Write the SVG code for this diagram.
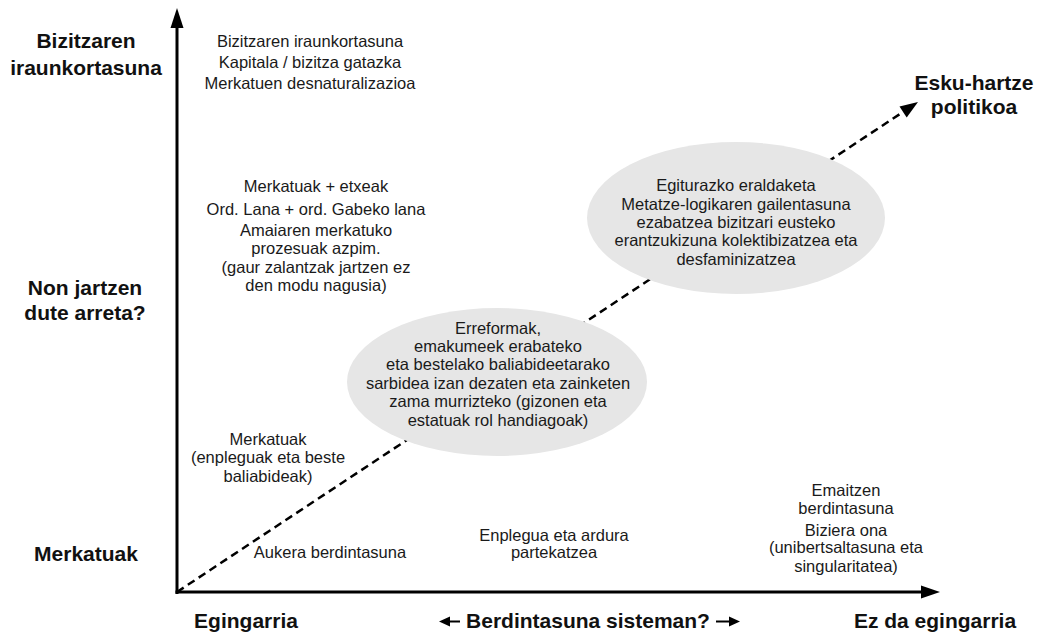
<svg xmlns="http://www.w3.org/2000/svg" width="1041" height="634" viewBox="0 0 1041 634">
<style>
.t{font-family:"Liberation Sans",Arial,sans-serif;font-size:16.5px;fill:#1a1a1a;text-anchor:middle}
.b{font-family:"Liberation Sans",Arial,sans-serif;font-size:21px;font-weight:bold;fill:#111;text-anchor:middle}
.ax{stroke:#000;stroke-width:3;fill:none}
.dash{stroke:#000;stroke-width:2.5;fill:none;stroke-dasharray:8 5}
.ell{fill:#e6e6e6}
.sa{stroke:#000;stroke-width:2;fill:none}
</style>
<rect width="1041" height="634" fill="#fff"/>
<g id="connectors">
<line class="ax" x1="177" y1="594" x2="177" y2="26"/>
<polygon points="170.5,28 183.5,28 177,8" fill="#000"/>
<line class="ax" x1="175.5" y1="592" x2="923" y2="592"/>
<polygon points="921,585.5 921,598.5 940,592" fill="#000"/>
<line class="dash" x1="177" y1="592" x2="906" y2="110"/>
<polygon points="918,102 899.5,106.6 906.7,117.4" fill="#000"/>
</g>
<g id="ellipses">
<ellipse id="e1" class="ell" cx="497" cy="382" rx="150" ry="74"/>
<ellipse id="e2" class="ell" cx="736" cy="218" rx="149" ry="76"/>
</g>
<g id="axis-labels">
<text class="b" x="86" y="48">Bizitzaren</text>
<text class="b" x="86" y="75">iraunkortasuna</text>
<text class="b" x="85" y="295">Non jartzen</text>
<text class="b" x="85" y="320">dute arreta?</text>
<text class="b" x="86" y="561">Merkatuak</text>
<text class="b" x="246" y="628">Egingarria</text>
<text class="b" x="588" y="628">Berdintasuna sisteman?</text>
<text class="b" x="935" y="628">Ez da egingarria</text>
<text class="b" x="974" y="90">Esku-hartze</text>
<text class="b" x="974" y="114">politikoa</text>
<line class="sa" x1="448" y1="621.5" x2="460" y2="621.5"/>
<polygon points="439,621.5 450,616.5 450,626.5" fill="#000"/>
<line class="sa" x1="716" y1="621.5" x2="730" y2="621.5"/>
<polygon points="740,621.5 729,616.5 729,626.5" fill="#000"/>
</g>
<g id="n-top">
<text class="t" x="310" y="47">Bizitzaren iraunkortasuna</text>
<text class="t" x="310" y="68">Kapitala / bizitza gatazka</text>
<text class="t" x="310" y="89">Merkatuen desnaturalizazioa</text>
</g>
<g id="n-mid">
<text class="t" x="316" y="192">Merkatuak + etxeak</text>
<text class="t" x="316" y="215">Ord. Lana + ord. Gabeko lana</text>
<text class="t" x="316" y="236">Amaiaren merkatuko</text>
<text class="t" x="316" y="254">prozesuak azpim.</text>
<text class="t" x="316" y="273">(gaur zalantzak jartzen ez</text>
<text class="t" x="316" y="291">den modu nagusia)</text>
</g>
<g id="n-ellipse1">
<text class="t" x="498" y="334">Erreformak,</text>
<text class="t" x="498" y="352">emakumeek erabateko</text>
<text class="t" x="498" y="370">eta bestelako baliabideetarako</text>
<text class="t" x="498" y="389">sarbidea izan dezaten eta zainketen</text>
<text class="t" x="498" y="407">zama murrizteko (gizonen eta</text>
<text class="t" x="498" y="426">estatuak rol handiagoak)</text>
</g>
<g id="n-ellipse2">
<text class="t" x="736" y="191">Egiturazko eraldaketa</text>
<text class="t" x="736" y="209.5">Metatze-logikaren gailentasuna</text>
<text class="t" x="736" y="228">ezabatzea bizitzari eusteko</text>
<text class="t" x="736" y="246">erantzukizuna kolektibizatzea eta</text>
<text class="t" x="736" y="265">desfaminizatzea</text>
</g>
<g id="n-merkatuak">
<text class="t" x="268" y="445">Merkatuak</text>
<text class="t" x="268" y="463">(enpleguak eta beste</text>
<text class="t" x="268" y="482">baliabideak)</text>
</g>
<g id="n-aukera">
<text class="t" x="330" y="558">Aukera berdintasuna</text>
</g>
<g id="n-enplegua">
<text class="t" x="554" y="541">Enplegua eta ardura</text>
<text class="t" x="554" y="558">partekatzea</text>
</g>
<g id="n-emaitzen">
<text class="t" x="846" y="496">Emaitzen</text>
<text class="t" x="846" y="514">berdintasuna</text>
<text class="t" x="846" y="536">Biziera ona</text>
<text class="t" x="846" y="553">(unibertsaltasuna eta</text>
<text class="t" x="846" y="572">singularitatea)</text>
</g>
</svg>
